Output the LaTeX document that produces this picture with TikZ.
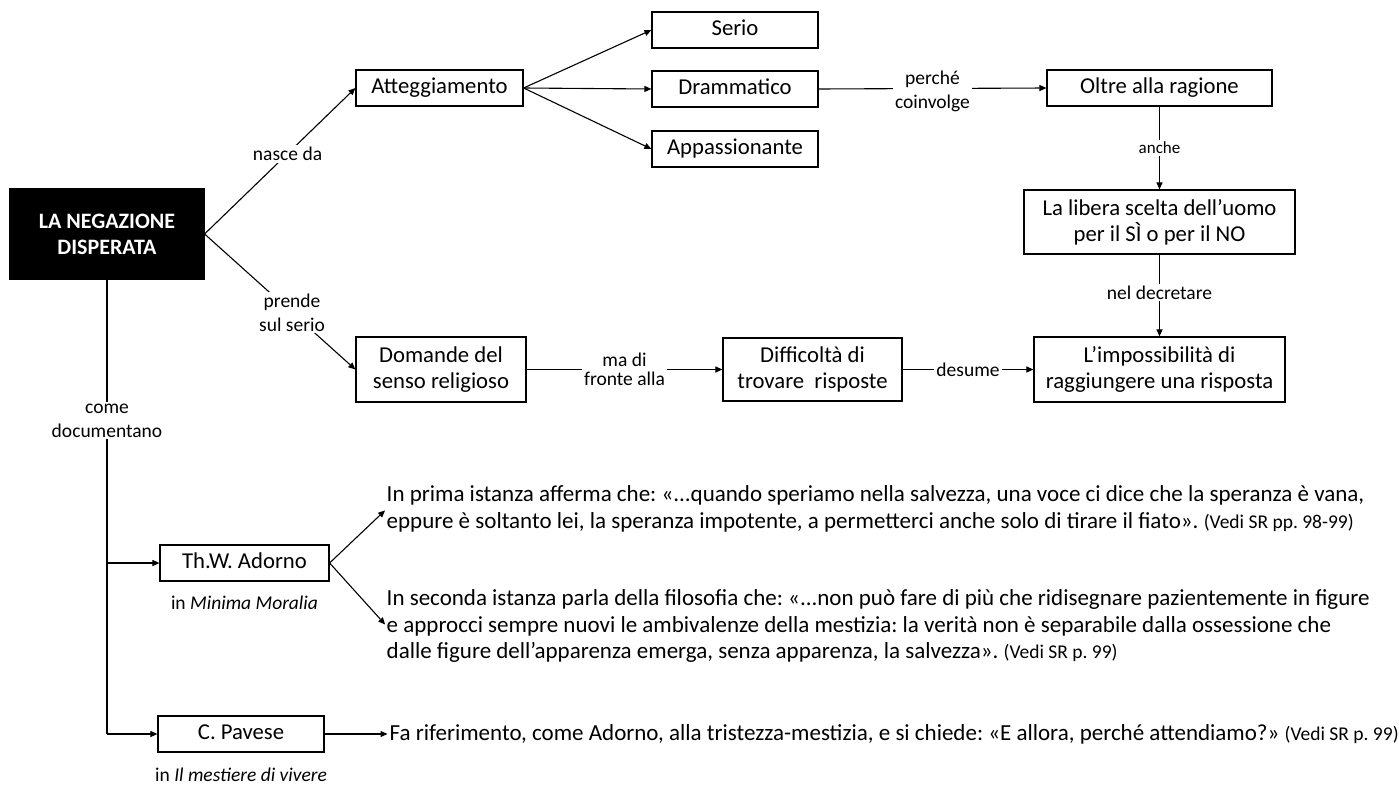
\documentclass[tikz,border=0pt]{standalone}
\usepackage{fontspec}
\setmainfont{Carlito}
\usetikzlibrary{arrows.meta}
\usetikzlibrary{positioning}
\frenchspacing

\newcommand{\vedi}[1]{{\fontsize{19.5}{20}\selectfont(Vedi SR #1)}}

\tikzset{
  box/.style={draw, line width=1.2pt, inner sep=0pt, minimum height=36pt, align=center, font=\fontsize{22.7}{26}\selectfont},
  onebox/.style={box, text height=15.5pt, text depth=5pt},
  mainbox/.style={box, fill=black, text=white, font=\fontsize{22}{26}\selectfont\bfseries},
  lbl/.style={fill=white, inner sep=2pt, align=center, font=\fontsize{19.5}{24}\selectfont},
  lblsmall/.style={lbl, font=\fontsize{17}{20}\selectfont},
  note/.style={inner sep=0pt, anchor=west, align=left, font=\fontsize{23}{26.7}\selectfont},
  link/.style={line width=1.1pt, -{Triangle[length=7pt,width=6pt]}},
  trunk/.style={line width=1.1pt}
}

\begin{document}
\begin{tikzpicture}[x=1pt,y=-1pt]
\useasboundingbox (0,0) rectangle (1399,784);

% concetto centrale
\node[mainbox,minimum width=194pt,minimum height=90pt] (negazione) at (107,234) {LA NEGAZIONE\\DISPERATA};

% ramo superiore
\node[onebox,minimum width=167pt] (atteggiamento) at (439.5,88) {Atteggiamento};
\node[onebox,minimum width=166pt] (serio) at (735,30) {Serio};
\node[onebox,minimum width=166pt] (drammatico) at (735,89) {Drammatico};
\node[onebox,minimum width=166pt] (appassionante) at (735,149) {Appassionante};
\node[onebox,minimum width=225pt] (oltre) at (1159.5,88) {Oltre alla ragione};
\node[box,minimum width=271pt,minimum height=64pt] (libera) at (1159.5,222) {La libera scelta dell’uomo\\per il SÌ o per il NO};

% ramo inferiore
\node[box,minimum width=170pt,minimum height=65pt] (domande) at (441,369.5) {Domande del\\senso religioso};
\node[box,minimum width=179pt,minimum height=63pt] (difficolta) at (812.5,369.5) {Difficoltà di\\trovare~ risposte};
\node[box,minimum width=251pt,minimum height=65pt] (impossibilita) at (1159.5,369.5) {L’impossibilità di\\raggiungere una risposta};

% autori
\node[onebox,minimum width=169pt] (adorno) at (244.5,563) {Th.W. Adorno};
\node[lbl,below=12.5pt of adorno] (minima) {in \textit{Minima Moralia}};
\node[onebox,minimum width=166pt] (pavese) at (241,734) {C. Pavese};
\node[lbl,below=13pt of pavese] (mestiere) {in \textit{Il mestiere di vivere}};

\node[note] (prima) at (386.5,509) {In prima istanza afferma che: «...quando speriamo nella salvezza, una voce ci dice che la speranza è vana,\\eppure è soltanto lei, la speranza impotente, a permetterci anche solo di tirare il fiato». \vedi{pp. 98-99}};
\node[note] (seconda) at (386.5,626) {In seconda istanza parla della filosofia che: «...non può fare di più che ridisegnare pazientemente in figure\\e approcci sempre nuovi le ambivalenze della mestizia: la verità non è separabile dalla ossessione che\\dalle figure dell’apparenza emerga, senza apparenza, la salvezza». \vedi{p. 99}};
\node[note] (tristezza) at (389.5,734) {Fa riferimento, come Adorno, alla tristezza-mestizia, e si chiede: «E allora, perché attendiamo?» \vedi{p. 99}};

% collegamenti
\draw[link] (negazione.east) -- node[lbl,pos=0.55] {nasce da} (atteggiamento.west);
\draw[link] (negazione.east) -- node[lbl,pos=0.58] {prende\\sul serio} (domande.west);
\draw[link] (atteggiamento.east) -- (serio.west);
\draw[link] (atteggiamento.east) -- (drammatico.west);
\draw[link] (atteggiamento.east) -- (appassionante.west);
\draw[link] (drammatico.east) -- node[lbl,yshift=-3pt] {perché\\coinvolge} (oltre.west);
\draw[link] (oltre.south) -- node[lblsmall] {anche} (libera.north);
\draw[link] (libera.south) -- node[lbl,yshift=3pt] {nel decretare} (impossibilita.north);
\draw[link] (domande.east) -- node[lbl,font=\fontsize{19.5}{19.5}\selectfont] {ma di\\fronte alla} (difficolta.west);
\draw[link] (difficolta.east) -- node[lbl] {desume} (impossibilita.west);

\coordinate (fondo) at (negazione.south |- pavese.west);
\draw[trunk] (negazione.south) -- node[lbl,pos=0.31] {come\\documentano} (fondo);
\draw[link] (negazione.south |- adorno.west) -- (adorno.west);
\draw[link] (fondo) -- (pavese.west);
\draw[link,shorten >=2pt] (adorno.east) -- (prima.west);
\draw[link,shorten >=2pt] (adorno.east) -- (seconda.west);
\draw[link,shorten >=2pt] (pavese.east) -- (tristezza.west);

\end{tikzpicture}
\end{document}
